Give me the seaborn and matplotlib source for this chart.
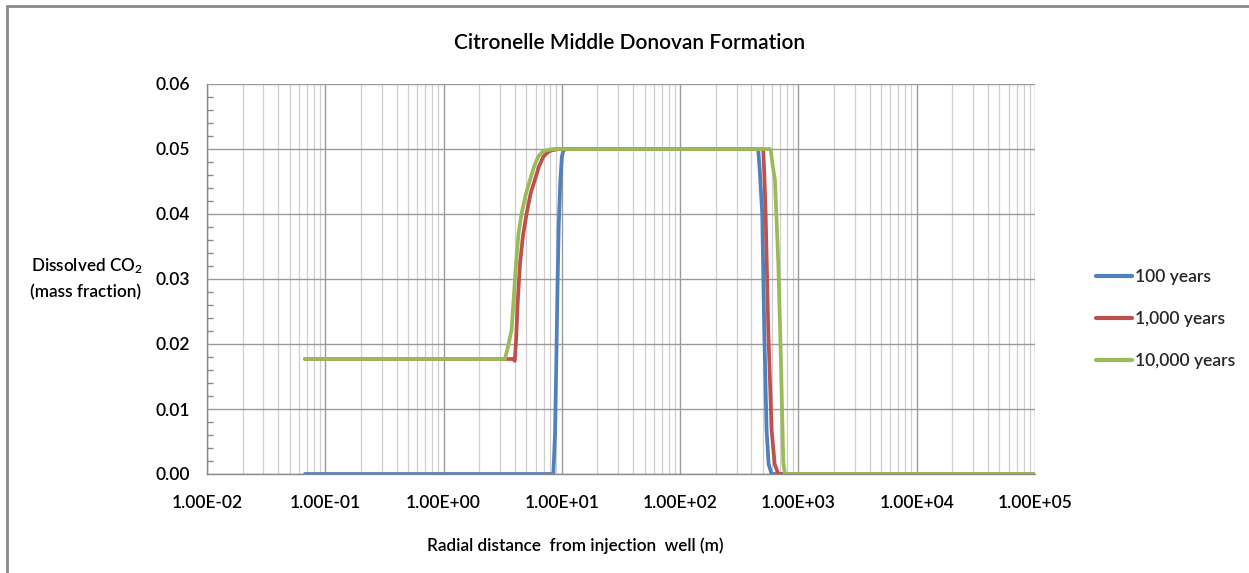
import numpy as np
import pandas as pd
import seaborn as sns
import matplotlib.pyplot as plt
from matplotlib.lines import Line2D
from matplotlib.ticker import LogLocator, MultipleLocator, FixedLocator, NullFormatter

sns.set_theme(style="white")
plt.rcParams['font.family'] = ['Lato', 'DejaVu Sans']
plt.rcParams['font.weight'] = 'semibold'
plt.rcParams['mathtext.default'] = 'regular'

# Radial distance (m) and dissolved CO2 mass fraction for each simulation time
x_100 = [0.0673, 8.47, 8.75, 8.95, 9.16, 9.4, 9.7, 10.0, 10.3, 11.0,
         440, 457, 470, 494, 514, 538, 560, 593, 1e5]
y_100 = [0.0, 0.0, 0.006, 0.016, 0.0273, 0.038, 0.045, 0.0488, 0.0498, 0.05,
         0.05, 0.0499, 0.047, 0.0401, 0.0222, 0.0068, 0.0015, 0.0, 0.0]

x_1000 = [0.0673, 3.88, 4.0, 4.1, 4.25, 4.43, 4.7, 5.04, 5.45, 5.9, 6.4, 6.97, 7.6, 8.2, 9.5,
          495, 504, 515, 528, 556, 593, 630, 676, 1e5]
y_1000 = [0.0177, 0.0177, 0.0174, 0.0205, 0.027, 0.0324, 0.0368, 0.0401, 0.0432, 0.0452,
          0.0473, 0.0488, 0.0495, 0.0498, 0.05,
          0.05, 0.0499, 0.046, 0.0401, 0.0222, 0.0068, 0.0015, 0.0, 0.0]

x_10000 = [0.0673, 3.3, 3.5, 3.76, 4.1, 4.3, 4.57, 4.95, 5.37, 5.8, 6.3, 6.8, 7.4, 8.5,
           570, 582, 600, 633, 676, 712, 745, 769, 1e5]
y_10000 = [0.0177, 0.0177, 0.0195, 0.0222, 0.0324, 0.037, 0.0401, 0.043, 0.0452, 0.0472,
           0.0488, 0.0495, 0.0498, 0.05,
           0.05, 0.0499, 0.048, 0.0452, 0.0324, 0.0171, 0.0017, 0.0, 0.0]

series_names = ["100 years", "1,000 years", "10,000 years"]
series_colors = ["#4F81BD", "#C0504D", "#9BBB59"]

x_ticks = [1e-2, 1e-1, 1e0, 1e1, 1e2, 1e3, 1e4, 1e5]
x_tick_labels = ["1.00E-02", "1.00E-01", "1.00E+00", "1.00E+01",
                 "1.00E+02", "1.00E+03", "1.00E+04", "1.00E+05"]
y_ticks = [0.0, 0.01, 0.02, 0.03, 0.04, 0.05, 0.06]
y_tick_labels = ["0.00", "0.01", "0.02", "0.03", "0.04", "0.05", "0.06"]

frames = []
for name, xs, ys in zip(series_names, [x_100, x_1000, x_10000], [y_100, y_1000, y_10000]):
    frames.append(pd.DataFrame({"distance": xs, "fraction": ys, "time": name}))
df = pd.concat(frames, ignore_index=True)

fig = plt.figure(figsize=(12.49, 5.73), dpi=100)
W, H = 1249, 573
ax = fig.add_axes([207 / W, 1 - 474 / H, (1035 - 207) / W, (474 - 84) / H])

sns.lineplot(data=df, x="distance", y="fraction", hue="time", hue_order=series_names,
             palette=series_colors, estimator=None, sort=False, linewidth=2.7,
             legend=False, ax=ax)

ax.set_xscale("log")
ax.set_xlim(1e-2, 1e5)
ax.set_ylim(0, 0.06)

ax.xaxis.set_major_locator(FixedLocator(x_ticks))
ax.set_xticklabels(x_tick_labels)
ax.xaxis.set_minor_locator(LogLocator(base=10, subs=np.arange(2, 10), numticks=20))
ax.xaxis.set_minor_formatter(NullFormatter())
ax.set_yticks(y_ticks)
ax.set_yticklabels(y_tick_labels)
ax.yaxis.set_minor_locator(MultipleLocator(0.002))

ax.grid(which="major", axis="both", color="#9a9a9a", linewidth=1.0)
ax.grid(which="minor", axis="x", color="#cfcfcf", linewidth=0.9)
ax.set_axisbelow(True)

for side in ["top", "right"]:
    ax.spines[side].set_visible(False)
for side in ["left", "bottom"]:
    ax.spines[side].set_color("#8a8a8a")
    ax.spines[side].set_linewidth(1.0)

ax.tick_params(axis="both", which="major", direction="out", length=5, width=1,
               color="#8a8a8a", labelsize=12.5, labelcolor="black")
ax.tick_params(axis="x", which="major", pad=10)
ax.tick_params(axis="y", which="major", pad=7)
ax.tick_params(axis="x", which="minor", length=0)
ax.tick_params(axis="y", which="minor", direction="in", length=4, width=1, color="#8a8a8a",
               left=True)

ax.set_xlabel("")
ax.set_ylabel("")

fig.text(630 / W, 1 - 43 / H, "Citronelle Middle Donovan Formation", ha="center",
         va="center", fontsize=15, color="black")
fig.text(575 / W, 1 - 546 / H, "Radial distance  from injection  well (m)", ha="center",
         va="center", fontsize=12.3, color="black")
fig.text(87 / W, 1 - 266 / H, "Dissolved CO$_2$", ha="center", va="center",
         fontsize=12.3, color="black")
fig.text(86 / W, 1 - 292 / H, "(mass fraction)", ha="center", va="center",
         fontsize=12.3, color="black")

handles = [Line2D([0], [0], color=c, linewidth=3.0) for c in series_colors]
fig.legend(handles, series_names, loc="center left",
           bbox_to_anchor=(1096 / W, 1 - 319 / H), frameon=False, fontsize=12.5,
           handlelength=2.1, handletextpad=0.15, labelspacing=1.5, borderpad=0,
           borderaxespad=0)

# thin gray frame along the top and left edges
fig.add_artist(Line2D([7 / W, 7 / W], [0, 1 - 6 / H], transform=fig.transFigure,
                      color="#8a8a8a", linewidth=2))
fig.add_artist(Line2D([7 / W, 1], [1 - 6 / H, 1 - 6 / H], transform=fig.transFigure,
                      color="#8a8a8a", linewidth=2))

fig.savefig("out.png", dpi=100, facecolor="white")
